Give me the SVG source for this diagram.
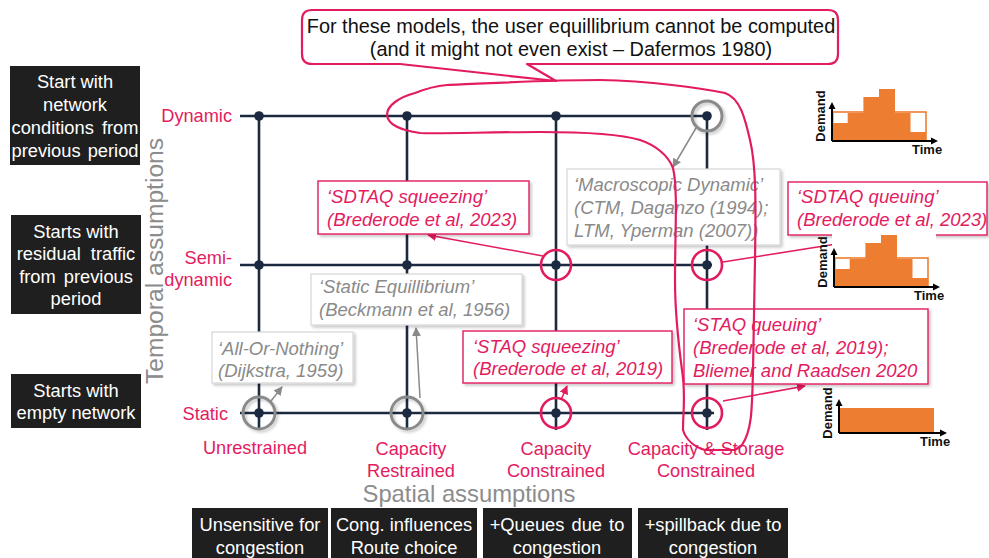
<svg xmlns="http://www.w3.org/2000/svg" width="989" height="558" viewBox="0 0 989 558">
<defs>
<style>
text{font-family:"Liberation Sans",Arial,sans-serif}
.blk{fill:#1f1f1f}
.wt{fill:#fff;font-size:18.3px;text-anchor:middle}
.grid{stroke:#1b2a40;stroke-width:2.6;fill:none}
.dot{fill:#1b2a40}
.lbl{fill:#e31b5f;font-size:18.2px}
.pc{fill:none;stroke:#e31b5f;stroke-width:2.6}
.gc{fill:none;stroke:#8a8a8a;stroke-width:3}
.pbox{fill:#fff;stroke:#e31b5f;stroke-width:1.4}
.gbox{fill:#fff;stroke:#d6d6d6;stroke-width:1.2}
.pit{fill:#e31b5f;font-size:18.5px;font-style:italic}
.git{fill:#8a8a8a;font-size:18.5px;font-style:italic}
.parr{stroke:#e31b5f;stroke-width:1.5;fill:none}
.garr{stroke:#8a8a8a;stroke-width:1.5;fill:none}
.axis{fill:#8c8c8c}
.bar{fill:#ed7d31}
.bo{fill:none;stroke:#ed7d31;stroke-width:1.6}
.ax{stroke:#000;stroke-width:2;fill:none}
.ct{font-size:13px;font-weight:bold;fill:#111}
</style>
<filter id="sh" x="-10%" y="-10%" width="130%" height="140%">
<feDropShadow dx="2" dy="2" stdDeviation="1.5" flood-color="#000" flood-opacity="0.22"/>
</filter>
<marker id="ap" viewBox="0 0 10 10" refX="9" refY="5" markerWidth="6" markerHeight="6" orient="auto">
<path d="M0,0 L10,5 L0,10 Z" fill="#e31b5f"/>
</marker>
<marker id="ag" viewBox="0 0 10 10" refX="9" refY="5" markerWidth="6" markerHeight="6" orient="auto">
<path d="M0,0 L10,5 L0,10 Z" fill="#8a8a8a"/>
</marker>
<g id="bars">
<path class="bar" d="M0,0 V-18 H15.7 V-28 H31.4 V-44 H47 V-52 H63 V-28 H78.5 V-9 H94 V0 Z"/>
<rect class="bo" x="0.8" y="-29" width="93.2" height="29"/>
</g>
</defs>

<!-- left temporal boxes -->
<g id="box-dynamic">
<rect class="blk" x="10" y="66" width="130" height="99"/>
<text class="wt" x="75" y="88">Start with</text>
<text class="wt" x="75" y="111">network</text>
<text class="wt" x="75" y="134" word-spacing="3">conditions from</text>
<text class="wt" x="75" y="157" word-spacing="2">previous period</text>
</g>
<g id="box-semi">
<rect class="blk" x="11" y="215" width="130" height="99"/>
<text class="wt" x="76" y="238">Starts with</text>
<text class="wt" x="76" y="260" word-spacing="5">residual traffic</text>
<text class="wt" x="76" y="283" word-spacing="3">from previous</text>
<text class="wt" x="76" y="305">period</text>
</g>
<g id="box-static">
<rect class="blk" x="11" y="374" width="130" height="54"/>
<text class="wt" x="76" y="397">Starts with</text>
<text class="wt" x="76" y="419">empty network</text>
</g>

<text id="temporal" class="axis" font-size="24.6" text-anchor="middle" transform="translate(163,261) rotate(-90)">Temporal assumptions</text>
<text id="spatial" class="axis" x="469" y="502" font-size="23.8" text-anchor="middle">Spatial assumptions</text>

<!-- row labels -->
<g id="row-labels">
<text class="lbl" x="232" y="122" text-anchor="end">Dynamic</text>
<text class="lbl" x="232" y="264" text-anchor="end">Semi-</text>
<text class="lbl" x="232" y="286" text-anchor="end">dynamic</text>
<text class="lbl" x="228" y="420" text-anchor="end">Static</text>
</g>
<!-- column labels -->
<g id="col-labels">
<text class="lbl" x="255" y="454" text-anchor="middle">Unrestrained</text>
<text class="lbl" x="411" y="455" text-anchor="middle">Capacity</text>
<text class="lbl" x="411" y="477" text-anchor="middle">Restrained</text>
<text class="lbl" x="556" y="455" text-anchor="middle">Capacity</text>
<text class="lbl" x="556" y="477" text-anchor="middle">Constrained</text>
<text class="lbl" x="706" y="455" text-anchor="middle">Capacity &amp; Storage</text>
<text class="lbl" x="706" y="477" text-anchor="middle">Constrained</text>
</g>

<!-- bottom spatial boxes -->
<g id="sp-unrestrained">
<rect class="blk" x="192" y="508" width="136" height="52"/>
<text class="wt" x="260" y="531">Unsensitive for</text>
<text class="wt" x="260" y="554">congestion</text>
</g>
<g id="sp-restrained">
<rect class="blk" x="331" y="508" width="146" height="52"/>
<text class="wt" x="404" y="531">Cong. influences</text>
<text class="wt" x="404" y="554">Route choice</text>
</g>
<g id="sp-constrained">
<rect class="blk" x="483" y="508" width="149" height="52"/>
<text class="wt" x="557" y="531" word-spacing="2">+Queues due to</text>
<text class="wt" x="557" y="554">congestion</text>
</g>
<g id="sp-storage">
<rect class="blk" x="638" y="508" width="150" height="52"/>
<text class="wt" x="713" y="531">+spillback due to</text>
<text class="wt" x="713" y="554">congestion</text>
</g>

<!-- grid -->
<g id="grid">
<path class="grid" d="M240,116 H707 M240,265 H712 M240,413 H714 M259,116 V430 M407,116 V430 M556,116 V430 M707,116 V430"/>
<circle class="dot" cx="259" cy="116" r="4.8"/><circle class="dot" cx="407" cy="116" r="4.8"/><circle class="dot" cx="556" cy="116" r="4.8"/><circle class="dot" cx="707" cy="116" r="4.8"/>
<circle class="dot" cx="259" cy="265" r="4.8"/><circle class="dot" cx="407" cy="265" r="4.8"/><circle class="dot" cx="556" cy="265" r="4.8"/><circle class="dot" cx="707" cy="265" r="4.8"/>
<circle class="dot" cx="259" cy="413" r="4.8"/><circle class="dot" cx="407" cy="413" r="4.8"/><circle class="dot" cx="556" cy="413" r="4.8"/><circle class="dot" cx="707" cy="413" r="4.8"/>
</g>

<!-- connectors -->
<g id="connectors">
<line class="parr" x1="543" y1="256" x2="428" y2="235" marker-end="url(#ap)"/>
<line class="garr" x1="420" y1="398" x2="416" y2="328" marker-end="url(#ag)"/>
<line class="garr" x1="271" y1="401" x2="282" y2="387" marker-end="url(#ag)"/>
<line class="parr" x1="561" y1="400" x2="567" y2="386" marker-end="url(#ap)"/>
<line class="garr" x1="696" y1="128" x2="673" y2="167" marker-end="url(#ag)"/>
<line class="parr" x1="723" y1="262" x2="887" y2="236" marker-end="url(#ap)"/>
<line class="parr" x1="723" y1="401" x2="805" y2="386" marker-end="url(#ap)"/>
</g>

<!-- circles -->
<g id="circles">
<circle class="gc" cx="259" cy="413" r="16" filter="url(#sh)"/>
<circle class="gc" cx="407" cy="413" r="16" filter="url(#sh)"/>
<circle class="gc" cx="707" cy="116" r="15" filter="url(#sh)"/>
<circle class="pc" cx="556" cy="413" r="15"/>
<circle class="pc" cx="707" cy="413" r="15"/>
<circle class="pc" cx="556" cy="265" r="15"/>
<circle class="pc" cx="707" cy="265" r="15"/>
</g>

<!-- annotation boxes -->
<g id="n-sdtaq-squeezing">
<rect class="pbox" x="318" y="181" width="211" height="53" filter="url(#sh)"/>
<text class="pit" x="327" y="203">‘SDTAQ squeezing’</text>
<text class="pit" x="327" y="226">(Brederode et al, 2023)</text>
</g>
<g id="n-static-eq">
<rect class="gbox" x="311" y="274" width="211" height="51" filter="url(#sh)"/>
<text class="git" x="319" y="293">‘Static Equillibrium’</text>
<text class="git" x="319" y="316">(Beckmann et al, 1956)</text>
</g>
<g id="n-aon">
<rect class="gbox" x="212" y="332" width="141" height="51" filter="url(#sh)"/>
<text class="git" x="218" y="355">‘All-Or-Nothing’</text>
<text class="git" x="218" y="377">(Dijkstra, 1959)</text>
</g>
<g id="n-staq-squeezing">
<rect class="pbox" x="463" y="331" width="209" height="52" filter="url(#sh)"/>
<text class="pit" x="473" y="353">‘STAQ squeezing’</text>
<text class="pit" x="473" y="375">(Brederode et al, 2019)</text>
</g>
<g id="n-macro">
<rect class="gbox" x="567" y="169" width="213" height="76" filter="url(#sh)"/>
<text class="git" x="574" y="191">‘Macroscopic Dynamic’</text>
<text class="git" x="574" y="214">(CTM, Daganzo (1994);</text>
<text class="git" x="574" y="237">LTM, Yperman (2007))</text>
</g>
<g id="n-sdtaq-queuing">
<rect class="pbox" x="788" y="182" width="199" height="53" filter="url(#sh)"/>
<text class="pit" x="797" y="203">‘SDTAQ queuing’</text>
<text class="pit" x="797" y="226">(Brederode et al, 2023)</text>
</g>
<g id="n-staq-queuing">
<rect class="pbox" x="684" y="309" width="244" height="75" filter="url(#sh)"/>
<text class="pit" x="693" y="331">‘STAQ queuing’</text>
<text class="pit" x="693" y="354">(Brederode et al, 2019);</text>
<text class="pit" x="693" y="377">Bliemer and Raadsen 2020</text>
</g>

<!-- demand charts -->
<g id="chart-dynamic" transform="translate(832,141)">
<rect x="-2" y="-54" width="104" height="52" fill="#fff"/>
<use href="#bars"/>
<path class="ax" d="M0,0 V-33 M0,0 H100"/>
<polygon points="0,-39 -3.5,-32 3.5,-32" fill="#000"/>
<polygon points="106,0 99,-3.5 99,3.5" fill="#000"/>
<text class="ct" transform="translate(-7,-25) rotate(-90)" text-anchor="middle">Demand</text>
<text class="ct" x="80" y="13">Time</text>
</g>
<g id="chart-semi" transform="translate(834,287)">
<rect x="-2" y="-54" width="104" height="52" fill="#fff"/>
<use href="#bars"/>
<path class="ax" d="M0,0 V-33 M0,0 H100"/>
<polygon points="0,-39 -3.5,-32 3.5,-32" fill="#000"/>
<polygon points="106,0 99,-3.5 99,3.5" fill="#000"/>
<text class="ct" transform="translate(-7,-25) rotate(-90)" text-anchor="middle">Demand</text>
<text class="ct" x="80" y="13">Time</text>
</g>
<g id="chart-static" transform="translate(839,433)">
<rect class="bar" x="0" y="-25" width="95" height="25"/>
<path class="ax" d="M0,0 V-28 M0,0 H102"/>
<polygon points="0,-34 -3.5,-27 3.5,-27" fill="#000"/>
<polygon points="108,0 101,-3.5 101,3.5" fill="#000"/>
<text class="ct" transform="translate(-7,-20) rotate(-90)" text-anchor="middle">Demand</text>
<text class="ct" x="81" y="13">Time</text>
</g>

<!-- freehand loop -->
<path id="loop" fill="none" stroke="#e31b5f" stroke-width="2.2" stroke-linejoin="round" d="M447,85 C480,84 540,80 600,80 C650,81 700,88 725,93 C740,98 745,118 750,140 C756,165 756,200 755,260 L753,370 C752,410 752,430 742,445 L735,450 L705,450 C695,447 686,440 683,430 C683,410 686,395 682,370 C678,340 675,310 675,280 C675,230 678,190 673,168 C668,155 655,145 640,140 C620,134 580,132 540,132 C490,132 440,134 420,133 C400,130 388,125 387,115 C387,105 400,97 415,93 C425,89 435,86 447,85 Z"/>

<!-- callout -->
<g id="callout">
<path d="M312,10 H828 Q838,10 838,20 V54 Q838,64 828,64 H527 L556,81 L400,64 H312 Q302,64 302,54 V20 Q302,10 312,10 Z" fill="#fff" stroke="#e31b5f" stroke-width="2.2" stroke-linejoin="round"/>
<text x="571" y="33" font-size="19.9" text-anchor="middle" fill="#111">For these models, the user equillibrium cannot be computed</text>
<text x="571" y="56" font-size="19.9" text-anchor="middle" fill="#111">(and it might not even exist – Dafermos 1980)</text>
</g>
</svg>
